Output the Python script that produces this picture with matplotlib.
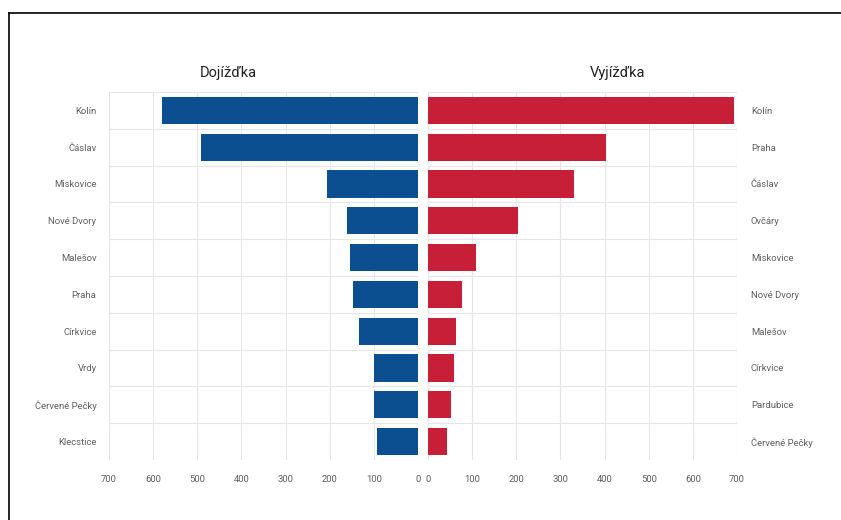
import matplotlib
matplotlib.use('Agg')
import matplotlib.pyplot as plt
from matplotlib.lines import Line2D
import numpy as np

plt.rcParams['font.family'] = ['Roboto', 'DejaVu Sans']

# Dojizdka (commuting in) - left panel
in_places = ['Kolín', 'Čáslav', 'Miskovice', 'Nové Dvory', 'Malešov',
             'Praha', 'Církvice', 'Vrdy', 'Červené Pečky', 'Klecstice']
in_values = [580, 492, 206, 161, 154, 147, 134, 100, 99, 93]

# Vyjizdka (commuting out) - right panel
out_places = ['Kolín', 'Praha', 'Čáslav', 'Ovčáry', 'Miskovice',
              'Nové Dvory', 'Malešov', 'Církvice', 'Pardubice', 'Červené Pečky']
out_values = [694, 403, 331, 204, 109, 77, 63, 58, 52, 43]

xticks = [0, 100, 200, 300, 400, 500, 600, 700]

blue = '#0b4f91'
red = '#c81f38'
grid_col = '#e6e6e6'
lab_col = '#5e5e5e'

W, H = 841, 520
fig = plt.figure(figsize=(W / 100, H / 100), dpi=100)

def px_axes(x0, x1, y0, y1):
    return fig.add_axes([x0 / W, 1 - y1 / H, (x1 - x0) / W, (y1 - y0) / H])

ax_l = px_axes(109, 418, 92, 460)
ax_r = px_axes(428, 737, 92, 460)

for ax, places, vals, col in [(ax_l, in_places, in_values, blue),
                              (ax_r, out_places, out_values, red)]:
    y = np.arange(len(places))
    ax.barh(y, vals, height=0.74, color=col, zorder=3)
    ax.set_ylim(len(places) - 0.5, -0.5)
    ax.set_yticks(y)
    ax.set_yticklabels(places, fontsize=6.8, color=lab_col)
    ax.set_yticks(np.arange(-0.5, len(places)), minor=True)
    ax.set_xticks(xticks)
    ax.set_xticklabels([str(t) for t in xticks], fontsize=6.8, color=lab_col)
    ax.grid(True, axis='x', which='major', color=grid_col, lw=0.8, zorder=0)
    ax.grid(True, axis='y', which='minor', color=grid_col, lw=0.8, zorder=0)
    ax.tick_params(which='both', length=0)
    ax.tick_params(axis='x', pad=11)
    for s in ax.spines.values():
        s.set_visible(False)

ax_l.set_xlim(700, 0)
ax_l.tick_params(axis='y', pad=9)
ax_r.set_xlim(0, 700)
ax_r.yaxis.tick_right()
ax_r.tick_params(axis='y', pad=10)

fig.text(228 / W, 1 - 73 / H, 'Dojížďka', fontsize=10.5, color='#222222',
         ha='center', va='center')
fig.text(618 / W, 1 - 73 / H, 'Vyjížďka', fontsize=10.5, color='#222222',
         ha='center', va='center')

# frame: only top and left edges visible in the reference
fig.add_artist(Line2D([9 / W, 1], [1 - 12.5 / H, 1 - 12.5 / H], color='#111111', lw=1.3))
fig.add_artist(Line2D([9 / W, 9 / W], [0, 1 - 12.5 / H], color='#111111', lw=1.3))

fig.savefig('out.png', dpi=100)
